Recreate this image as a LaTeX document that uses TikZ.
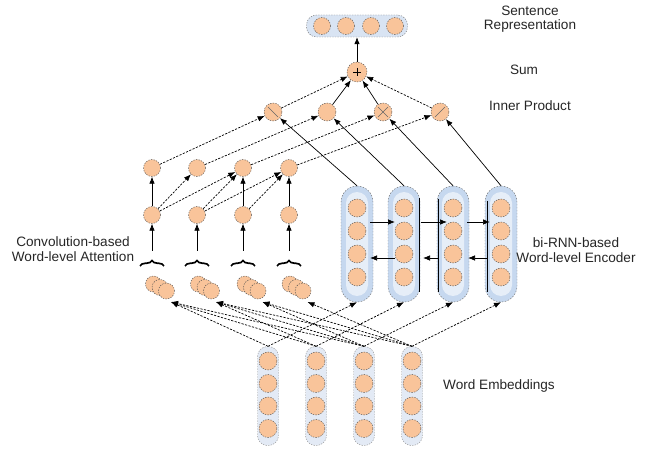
\documentclass[tikz,border=0pt]{standalone}
\usepackage{fontspec}
\setmainfont{Liberation Sans}
\usetikzlibrary{arrows.meta,decorations.pathreplacing,calc}
\definecolor{peach}{HTML}{F9C49A}
\definecolor{capout}{HTML}{C6D8EF}
\definecolor{capin}{HTML}{E6EEF8}
\definecolor{embcap}{HTML}{E3EAF5}
\definecolor{sentbox}{HTML}{D9E4F3}
\begin{document}
\begin{tikzpicture}[x=1pt,y=-1pt,
  cell/.style={circle,minimum size=17pt,inner sep=0pt,fill=peach,draw=black!70,line width=0.45pt,dash pattern=on 1.3pt off 1.3pt},
  lbl/.style={font=\fontsize{13.6}{14.5}\selectfont,align=center,text=black!85},
  arr/.style={-{Latex[length=7pt,width=5.5pt]},line width=0.7pt},
  darr/.style={arr,dash pattern=on 2.2pt off 1.4pt},
  sbox/.style={rectangle,rounded corners=10pt,minimum width=101pt,minimum height=22pt,fill=sentbox,draw=black!55,line width=0.45pt,dash pattern=on 1.3pt off 1.3pt},
  bcap/.style={rectangle,rounded corners=16pt,minimum width=32pt,minimum height=116pt,fill=capout,draw=black!55,line width=0.45pt,dash pattern=on 1.5pt off 1.5pt},
  bin/.style={rectangle,rounded corners=11pt,minimum width=22pt,minimum height=104pt,fill=capin},
  wcap/.style={rectangle,rounded corners=10pt,minimum width=21pt,minimum height=99pt,fill=embcap,draw=black!45,line width=0.45pt,dash pattern=on 1.3pt off 1.3pt},
  bracestyle/.style={decorate,decoration={brace,amplitude=5.5pt},line width=1.7pt},
  markline/.style={draw=black!60,line width=0.5pt}
]
\useasboundingbox (0,0) rectangle (657,449);

% sentence representation
\node[sbox] (sb) at (357,26) {};
\foreach \i/\x in {1/322,2/346,3/371,4/395} \node[cell] (s\i) at (\x,26) {};

% sum
\node[cell,minimum size=20pt] (sum) at (357,72) {};
\draw[line width=0.6pt] ($(sum)+(-4,0)$) -- ($(sum)+(4,0)$) ($(sum)+(0,-4)$) -- ($(sum)+(0,4)$);
\draw[arr] (sum) -- (sb);

% inner products
\foreach \i/\x in {1/273,2/327,3/383,4/440} \node[cell,minimum size=18pt] (p\i) at (\x,112) {};
\draw[markline] ($(p1)+(-5,-5)$) -- ($(p1)+(5,5)$);
\draw[markline] ($(p3)+(-5,-5)$) -- ($(p3)+(5,5)$) ($(p3)+(-5,5)$) -- ($(p3)+(5,-5)$);
\draw[markline] ($(p4)+(-5,5)$) -- ($(p4)+(5,-5)$);
\draw[darr] (p1) -- (sum);
\draw[arr] (p2) -- (sum);
\draw[arr] (p3) -- (sum);
\draw[darr] (p4) -- (sum);

% bi-RNN encoder
\foreach \i/\x in {1/357,2/404,3/453,4/501}{
  \node[bcap] (b\i) at (\x,244) {};
  \node[bin] (bi\i) at (\x,244) {};
  \foreach \j/\y in {1/208,2/231,3/254,4/277}
    \node[cell,minimum size=18pt] (b\i-\j) at (\x,\y) {};
  \draw[arr] (b\i.north) -- (p\i);
}
\draw[line width=1pt] (419,198) -- (419,292);
\draw[line width=1pt] (438,199) -- (438,292);
\draw[line width=1pt] (487,201) -- (487,292);
\draw[arr] ($(b1)+(13,-22)$) -- ($(b2)+(-9,-22)$);
\draw[arr] ($(b2)+(17,-22)$) -- ($(b3)+(-6,-22)$);
\draw[arr] ($(b3)+(14,-22)$) -- ($(b4)+(-11,-22)$);
\draw[arr] ($(b4)+(-14,14)$) -- ($(b3)+(15,14)$);
\draw[arr] ($(b3)+(-15,14)$) -- ($(b2)+(19,14)$);
\draw[arr] ($(b2)+(-9,14)$) -- ($(b1)+(13,14)$);

% attention
\foreach \i/\x in {1/152,2/197,3/243,4/289}{
  \node[cell] (a\i) at (\x,168) {};
  \node[cell] (l\i) at (\x,215) {};
  \draw[bracestyle] ({\x-12},266) -- ({\x+12},266);
  \coordinate (t\i) at (\x,251);
  \draw[arr] (t\i) -- (l\i);
  \draw[darr] (a\i) -- (p\i);
}
\draw[arr] (l1) -- (a1);
\draw[arr] (l3) -- (a3);
\draw[arr] (l4) -- (a4);
\draw[darr] (l1) -- (a2);
\draw[darr] (l1) -- (a3);
\draw[darr] (l2) -- (a3);
\draw[darr] (l2) -- (a4);
\draw[darr] (l3) -- (a4);

% convolution windows
\foreach \i/\x in {1/160,2/205,3/251.5,4/296.5}{
  \node[cell,minimum size=16pt] (ga\i) at ({\x-6.5},284) {};
  \node[cell,minimum size=16pt] (gb\i) at (\x,287.5) {};
  \node[cell,minimum size=16pt] (gc\i) at ({\x+6.5},291) {};
  \coordinate (gin\i) at ({\x+11},302);
}

% word embeddings
\foreach \i/\x in {1/268,2/316,3/364,4/412}{
  \node[wcap] (w\i) at (\x,396) {};
  \foreach \j/\y in {1/361,2/383.5,3/406,4/428.5}
    \node[cell,minimum size=18pt] (w\i-\j) at (\x,\y) {};
  \draw[darr] (w\i.north) -- (b\i.south);
}
\foreach \w/\g in {1/1,2/1,2/2,3/1,3/2,3/3,4/2,4/3,4/4}
  \draw[darr] (w\w.north) -- (gin\g);

% labels
\node[lbl] (tsent) at (530,19) {Sentence\\Representation};
\node[lbl] (tsum) at (524,70) {Sum};
\node[lbl] (tinner) at (530,106) {Inner Product};
\node[lbl] (tenc) at (576,250) {bi-RNN-based\\Word-level Encoder};
\node[lbl] (tatt) at (73,249) {Convolution-based\\Word-level Attention};
\node[lbl] (temb) at (499,386) {Word Embeddings};
\end{tikzpicture}
\end{document}
